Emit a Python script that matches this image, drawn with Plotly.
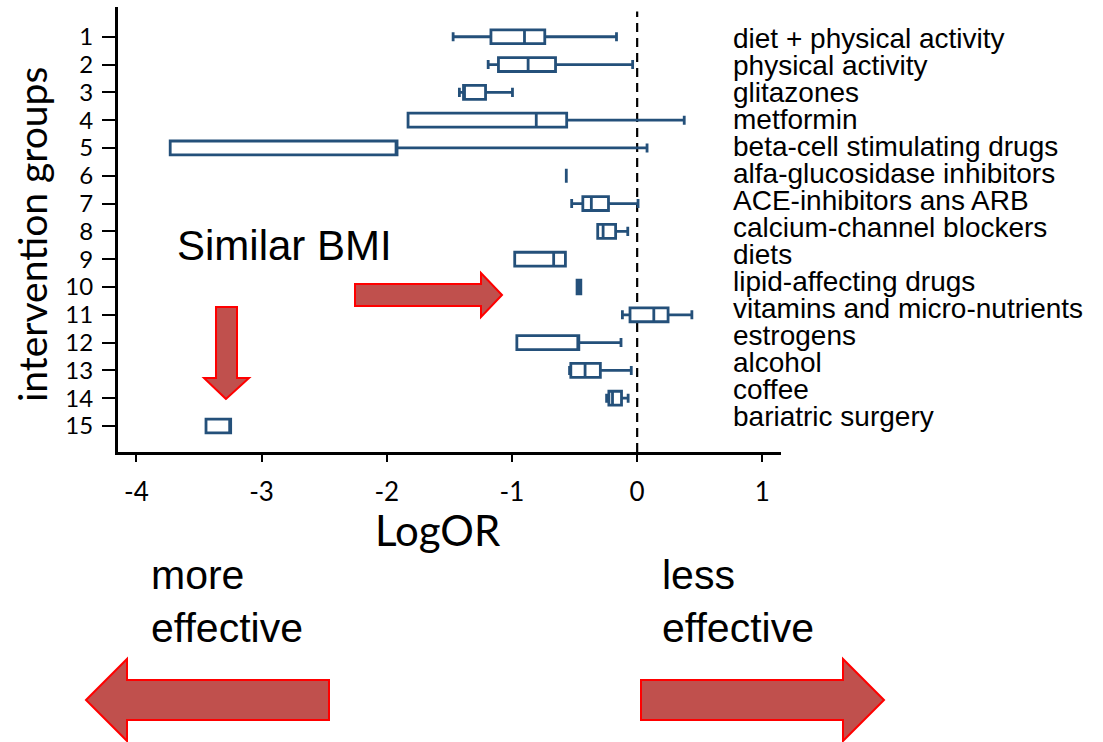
import plotly.graph_objects as go

# ---- data ----
groups = list(range(1, 16))
labels = ["diet + physical activity", "physical activity", "glitazones", "metformin",
          "beta-cell stimulating drugs", "alfa-glucosidase inhibitors", "ACE-inhibitors ans ARB",
          "calcium-channel blockers", "diets", "lipid-affecting drugs",
          "vitamins and micro-nutrients", "estrogens", "alcohol", "coffee", "bariatric surgery"]
lower = [-1.47, -1.19, -1.42, -1.83, -3.73, -0.566, -0.523, -0.315, -0.978, -0.48, -0.118, -0.961, -0.54, -0.244, -3.444]
q1 =    [-1.168, -1.108, -1.387, -1.83, -3.73, -0.566, -0.434, -0.315, -0.978, -0.48, -0.057, -0.961, -0.530, -0.226, -3.444]
median = [-0.90, -0.871, -1.38, -0.806, -1.918, -0.566, -0.366, -0.272, -0.667, -0.47, 0.133, -0.466, -0.416, -0.197, -3.247]
q3 =    [-0.738, -0.652, -1.211, -0.563, -1.918, -0.566, -0.229, -0.172, -0.573, -0.45, 0.247, -0.466, -0.294, -0.125, -3.247]
upper = [-0.165, -0.036, -0.996, 0.376, 0.079, -0.566, 0.007, -0.075, -0.573, -0.45, 0.437, -0.129, -0.047, -0.072, -3.247]
x_ticks = [-4, -3, -2, -1, 0, 1]

W, H = 1103, 742
L, R, T, B = 118, 781, 7, 452  # plot area in pixels


def px(x):
    return (x - L) / (R - L)


def py(y):
    return (B - y) / (B - T)


def path(points):
    return "M " + " L ".join(f"{px(a):.5f},{py(b):.5f}" for a, b in points) + " Z"


fig = go.Figure()
fig.add_trace(go.Box(
    y=groups, q1=q1, median=median, q3=q3, lowerfence=lower, upperfence=upper,
    orientation="h", width=0.5, whiskerwidth=0.65,
    fillcolor="white", line=dict(color="#24507a", width=2.8),
    boxpoints=False, showlegend=False, hoverinfo="skip"))

shapes = [
    dict(type="line", xref="x", yref="paper", x0=0, x1=0, y0=0, y1=0.99,
         line=dict(color="black", width=2.2, dash="9px,6px"), layer="below"),
]
arrow_style = dict(type="path", xref="paper", yref="paper", fillcolor="#c0504d",
                   line=dict(color="#ff0000", width=2))
# bottom-left arrow
shapes.append(dict(path=path([(86, 700), (127, 659), (127, 680), (329, 680), (329, 720), (127, 720), (127, 741)]), **arrow_style))
# bottom-right arrow
shapes.append(dict(path=path([(884, 700), (843, 659), (843, 680), (641, 680), (641, 720), (843, 720), (843, 741)]), **arrow_style))
# down arrow
shapes.append(dict(path=path([(226, 399), (204, 378), (216, 378), (216, 307), (237, 307), (237, 378), (249, 378)]), **arrow_style))
# middle right arrow
shapes.append(dict(path=path([(502, 295), (481, 273), (481, 284), (355, 284), (355, 306), (481, 306), (481, 317)]), **arrow_style))

annotations = []
for i, lab in enumerate(labels):
    annotations.append(dict(text=lab, xref="paper", yref="paper", x=px(731), y=py(38 + 27 * i),
                            xanchor="left", yanchor="middle", showarrow=False,
                            font=dict(family="Liberation Sans", size=28, color="black")))
annotations += [
    dict(text="intervention groups", xref="paper", yref="paper", x=px(32), y=py(235),
         textangle=-90, showarrow=False, xanchor="center", yanchor="middle",
         font=dict(family="Lato", size=39, color="black")),
    dict(text="LogOR", xref="paper", yref="paper", x=px(438), y=py(530),
         showarrow=False, xanchor="center", yanchor="middle",
         font=dict(family="Lato", size=42, color="black")),
    dict(text="Similar BMI", xref="paper", yref="paper", x=px(175), y=py(245),
         showarrow=False, xanchor="left", yanchor="middle",
         font=dict(family="Liberation Sans", size=42, color="black")),
    dict(text="more<br>effective", xref="paper", yref="paper", x=px(149), y=py(601),
         showarrow=False, xanchor="left", yanchor="middle", align="left",
         font=dict(family="Liberation Sans", size=41, color="black")),
    dict(text="less<br>effective", xref="paper", yref="paper", x=px(660), y=py(601),
         showarrow=False, xanchor="left", yanchor="middle", align="left",
         font=dict(family="Liberation Sans", size=41, color="black")),
]

fig.update_layout(
    width=W, height=H, margin=dict(l=L, r=W - R, t=T, b=H - B, pad=0),
    paper_bgcolor="white", plot_bgcolor="white",
    shapes=shapes, annotations=annotations, showlegend=False,
    xaxis=dict(range=[-4.147, 1.149], tickvals=x_ticks, ticktext=[str(v) for v in x_ticks],
               showgrid=False, zeroline=False, showline=True, linecolor="black", linewidth=3,
               ticks="outside", ticklen=7, tickwidth=2, tickcolor="black",
               ticklabelstandoff=8,
               tickfont=dict(family="Lato", size=26, color="black")),
    yaxis=dict(range=[15.935, -0.07], tickvals=groups, ticktext=[str(g) for g in groups],
               showgrid=False, zeroline=False, showline=True, linecolor="black", linewidth=3,
               ticks="outside", ticklen=13, tickwidth=2, tickcolor="black",
               ticklabelstandoff=4,
               tickfont=dict(family="Lato", size=24, color="black")),
)

fig.write_html("out.html")
